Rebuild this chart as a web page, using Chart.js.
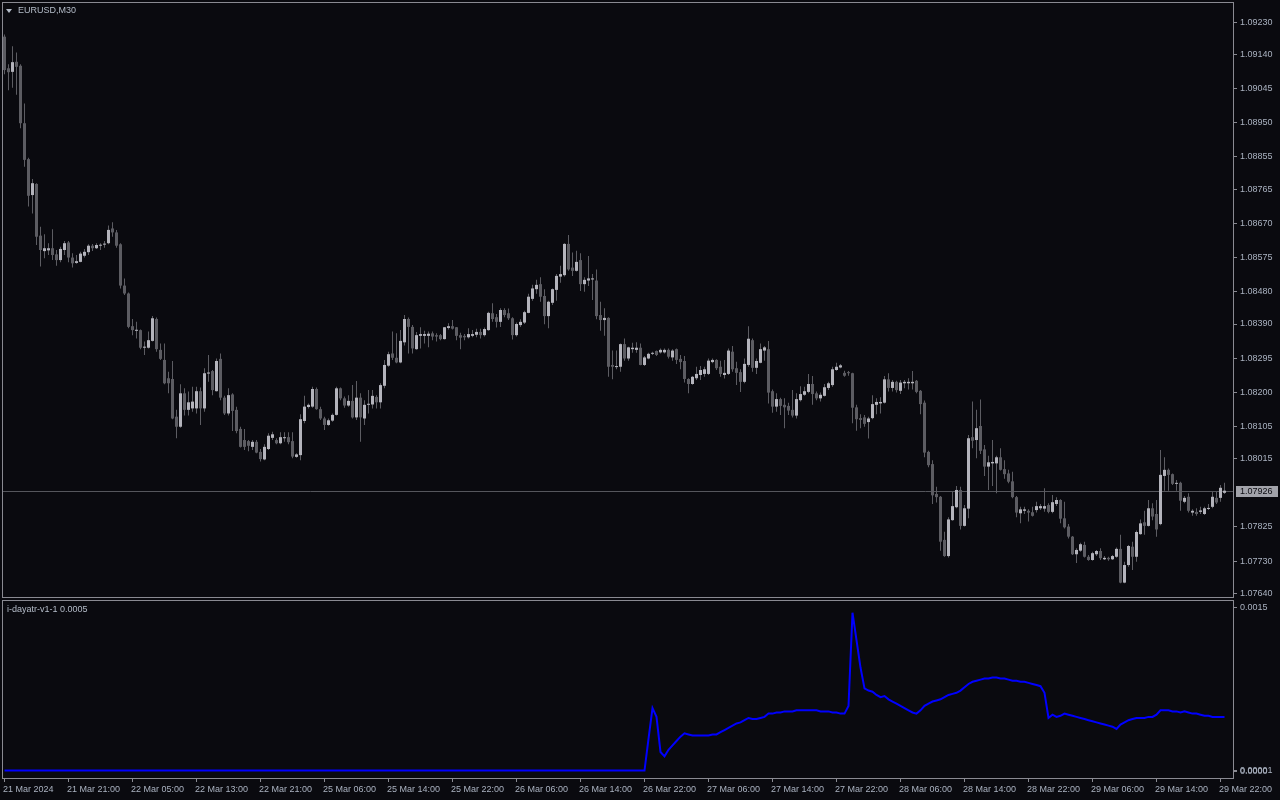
<!DOCTYPE html>
<html><head><meta charset="utf-8">
<script src="https://cdn.jsdelivr.net/npm/chart.js@4.4.1/dist/chart.umd.min.js"></script>
<style>
html,body{margin:0;padding:0;background:#0a0a0f;width:1280px;height:800px;overflow:hidden}
#main{position:absolute;left:0;top:0;width:1280px;height:598px}
#ind{position:absolute;left:0;top:598px;width:1280px;height:202px}
.lbl{position:absolute;font:9px "Liberation Sans",Arial,sans-serif;color:#b4bcc8;white-space:nowrap;line-height:10px}
#tri{position:absolute;left:6px;top:9px;width:0;height:0;border-left:3px solid transparent;border-right:3px solid transparent;border-top:4px solid #b4bcc8}
</style></head><body>
<div id="main"><canvas id="c1"></canvas></div>
<div id="ind"><canvas id="c2"></canvas></div>
<div id="tri"></div>
<div class="lbl" id="title" style="left:18px;top:5px">EURUSD,M30</div>
<div class="lbl" id="indname" style="left:7px;top:604px">i-dayatr-v1-1 0.0005</div>
<script>
const open = [
1.09190,1.09102,1.09092,1.09120,1.09109,1.08949,1.08849,1.08749,1.08780,1.08636,
1.08593,1.08595,1.08601,1.08584,1.08568,1.08596,1.08617,1.08575,1.08560,1.08563,
1.08580,1.08590,1.08608,1.08601,1.08608,1.08611,1.08615,1.08656,1.08645,1.08612,
1.08497,1.08475,1.08384,1.08371,1.08373,1.08324,1.08324,1.08343,1.08404,1.08318,
1.08290,1.08239,1.08237,1.08132,1.08104,1.08197,1.08151,1.08155,1.08155,1.08203,
1.08155,1.08252,1.08259,1.08203,1.08293,1.08185,1.08141,1.08194,1.08151,1.08098,
1.08067,1.08064,1.08048,1.08062,1.08034,1.08013,1.08042,1.08073,1.08067,1.08058,
1.08072,1.08075,1.08064,1.08020,1.08025,1.08120,1.08159,1.08160,1.08209,1.08153,
1.08127,1.08109,1.08121,1.08137,1.08211,1.08183,1.08163,1.08176,1.08130,1.08185,
1.08127,1.08165,1.08166,1.08187,1.08172,1.08218,1.08274,1.08308,1.08296,1.08283,
1.08339,1.08404,1.08382,1.08320,1.08357,1.08357,1.08357,1.08364,1.08359,1.08359,
1.08348,1.08379,1.08384,1.08381,1.08359,1.08357,1.08353,1.08357,1.08360,1.08368,
1.08359,1.08373,1.08420,1.08409,1.08396,1.08429,1.08420,1.08406,1.08359,1.08387,
1.08394,1.08421,1.08460,1.08487,1.08501,1.08468,1.08412,1.08449,1.08485,1.08522,
1.08526,1.08613,1.08547,1.08538,1.08568,1.08501,1.08511,1.08514,1.08511,1.08415,
1.08401,1.08407,1.08276,1.08270,1.08271,1.08334,1.08294,1.08320,1.08318,1.08324,
1.08276,1.08294,1.08307,1.08315,1.08311,1.08311,1.08318,1.08297,1.08320,1.08293,
1.08287,1.08237,1.08223,1.08239,1.08248,1.08251,1.08251,1.08284,1.08290,1.08271,
1.08248,1.08251,1.08313,1.08267,1.08256,1.08229,1.08276,1.08345,1.08268,1.08282,
1.08316,1.08320,1.08203,1.08160,1.08181,1.08165,1.08162,1.08151,1.08135,1.08178,
1.08193,1.08201,1.08223,1.08197,1.08183,1.08190,1.08212,1.08220,1.08262,1.08269,
1.08254,1.08256,1.08253,1.08158,1.08128,1.08130,1.08117,1.08128,1.08165,1.08169,
1.08171,1.08236,1.08212,1.08229,1.08204,1.08225,1.08225,1.08225,1.08232,1.08204,
1.08171,1.08034,1.08000,1.07917,1.07909,1.07789,1.07744,1.07844,1.07880,1.07928,
1.07828,1.07876,1.08075,1.08067,1.08106,1.08041,1.07993,1.08002,1.08002,1.08019,
1.07986,1.07974,1.07952,1.07908,1.07863,1.07870,1.07870,1.07866,1.07872,1.07877,
1.07876,1.07886,1.07867,1.07889,1.07900,1.07849,1.07826,1.07798,1.07749,1.07759,
1.07775,1.07742,1.07733,1.07749,1.07758,1.07735,1.07739,1.07735,1.07742,1.07764,
1.07670,1.07719,1.07770,1.07742,1.07805,1.07838,1.07828,1.07877,1.07861,1.07833,
1.07967,1.07984,1.07972,1.07945,1.07948,1.07895,1.07909,1.07865,1.07867,1.07867,
1.07861,1.07875,1.07881,1.07906,1.07906,1.07920];
const high = [
1.09196,1.09113,1.09163,1.09146,1.09113,1.09004,1.08853,1.08794,1.08782,1.08661,
1.08640,1.08615,1.08654,1.08596,1.08605,1.08621,1.08621,1.08587,1.08582,1.08591,
1.08599,1.08612,1.08613,1.08615,1.08615,1.08621,1.08664,1.08673,1.08652,1.08615,
1.08517,1.08478,1.08404,1.08396,1.08375,1.08341,1.08369,1.08412,1.08408,1.08336,
1.08336,1.08257,1.08287,1.08151,1.08222,1.08211,1.08202,1.08215,1.08215,1.08213,
1.08267,1.08304,1.08262,1.08294,1.08308,1.08190,1.08211,1.08197,1.08160,1.08104,
1.08098,1.08067,1.08067,1.08067,1.08042,1.08055,1.08086,1.08090,1.08072,1.08089,
1.08089,1.08089,1.08089,1.08030,1.08139,1.08190,1.08169,1.08215,1.08213,1.08160,
1.08132,1.08127,1.08141,1.08215,1.08213,1.08188,1.08192,1.08220,1.08231,1.08197,
1.08178,1.08206,1.08206,1.08192,1.08225,1.08290,1.08313,1.08369,1.08364,1.08373,
1.08415,1.08408,1.08387,1.08368,1.08381,1.08371,1.08369,1.08369,1.08364,1.08362,
1.08382,1.08392,1.08401,1.08382,1.08366,1.08362,1.08378,1.08373,1.08377,1.08377,
1.08380,1.08424,1.08448,1.08418,1.08434,1.08434,1.08433,1.08409,1.08394,1.08403,
1.08427,1.08474,1.08499,1.08513,1.08520,1.08487,1.08455,1.08489,1.08529,1.08552,
1.08615,1.08638,1.08589,1.08594,1.08587,1.08520,1.08579,1.08529,1.08542,1.08452,
1.08434,1.08409,1.08316,1.08316,1.08336,1.08350,1.08327,1.08338,1.08339,1.08336,
1.08301,1.08310,1.08313,1.08316,1.08322,1.08322,1.08322,1.08320,1.08322,1.08304,
1.08301,1.08239,1.08245,1.08271,1.08273,1.08271,1.08294,1.08294,1.08292,1.08288,
1.08290,1.08322,1.08329,1.08285,1.08264,1.08294,1.08384,1.08350,1.08294,1.08336,
1.08329,1.08343,1.08208,1.08197,1.08185,1.08183,1.08171,1.08206,1.08197,1.08217,
1.08215,1.08251,1.08245,1.08202,1.08199,1.08223,1.08229,1.08271,1.08282,1.08279,
1.08260,1.08259,1.08254,1.08165,1.08139,1.08137,1.08132,1.08192,1.08183,1.08186,
1.08245,1.08253,1.08234,1.08232,1.08234,1.08234,1.08239,1.08259,1.08234,1.08206,
1.08177,1.08037,1.08011,1.07937,1.07911,1.07812,1.07852,1.07923,1.07939,1.07937,
1.07886,1.08081,1.08174,1.08151,1.08180,1.08053,1.08023,1.08067,1.08023,1.08044,
1.08011,1.07984,1.07979,1.07911,1.07881,1.07881,1.07874,1.07881,1.07895,1.07889,
1.07933,1.07891,1.07914,1.07908,1.07902,1.07895,1.07833,1.07800,1.07766,1.07781,
1.07784,1.07747,1.07756,1.07761,1.07766,1.07744,1.07742,1.07747,1.07768,1.07803,
1.07728,1.07775,1.07784,1.07815,1.07846,1.07870,1.07900,1.07891,1.07900,1.08039,
1.08019,1.07988,1.07974,1.07956,1.07951,1.07911,1.07919,1.07874,1.07877,1.07881,
1.07881,1.07889,1.07923,1.07923,1.07942,1.07948];
const low = [
1.09085,1.09041,1.09048,1.09028,1.08935,1.08828,1.08717,1.08698,1.08610,1.08550,
1.08573,1.08582,1.08568,1.08552,1.08562,1.08582,1.08562,1.08547,1.08558,1.08562,
1.08575,1.08582,1.08593,1.08599,1.08596,1.08602,1.08612,1.08633,1.08602,1.08489,
1.08471,1.08378,1.08359,1.08350,1.08320,1.08304,1.08322,1.08341,1.08313,1.08290,
1.08222,1.08197,1.08125,1.08072,1.08101,1.08135,1.08135,1.08146,1.08141,1.08109,
1.08146,1.08229,1.08192,1.08202,1.08178,1.08137,1.08135,1.08092,1.08086,1.08046,
1.08039,1.08036,1.08039,1.08030,1.08007,1.08011,1.08039,1.08067,1.08055,1.08055,
1.08062,1.08055,1.08016,1.08018,1.08011,1.08114,1.08155,1.08157,1.08151,1.08123,
1.08095,1.08107,1.08118,1.08135,1.08178,1.08157,1.08160,1.08127,1.08123,1.08062,
1.08109,1.08141,1.08155,1.08155,1.08155,1.08211,1.08271,1.08290,1.08281,1.08281,
1.08330,1.08308,1.08308,1.08318,1.08322,1.08336,1.08325,1.08345,1.08341,1.08345,
1.08347,1.08375,1.08375,1.08345,1.08320,1.08345,1.08350,1.08353,1.08353,1.08350,
1.08355,1.08371,1.08396,1.08380,1.08382,1.08409,1.08401,1.08347,1.08355,1.08382,
1.08390,1.08420,1.08455,1.08474,1.08452,1.08389,1.08378,1.08443,1.08455,1.08505,
1.08522,1.08538,1.08524,1.08536,1.08482,1.08480,1.08496,1.08457,1.08403,1.08371,
1.08357,1.08243,1.08236,1.08264,1.08257,1.08288,1.08288,1.08310,1.08310,1.08275,
1.08273,1.08292,1.08304,1.08301,1.08308,1.08308,1.08294,1.08288,1.08279,1.08264,
1.08227,1.08197,1.08221,1.08234,1.08234,1.08243,1.08248,1.08281,1.08262,1.08243,
1.08238,1.08248,1.08257,1.08220,1.08201,1.08225,1.08271,1.08257,1.08251,1.08281,
1.08288,1.08169,1.08143,1.08146,1.08137,1.08100,1.08137,1.08130,1.08127,1.08174,
1.08190,1.08197,1.08165,1.08178,1.08174,1.08188,1.08206,1.08215,1.08260,1.08267,
1.08243,1.08246,1.08114,1.08093,1.08100,1.08104,1.08071,1.08125,1.08139,1.08141,
1.08169,1.08202,1.08202,1.08199,1.08195,1.08211,1.08208,1.08208,1.08197,1.08139,
1.08019,1.07991,1.07889,1.07893,1.07759,1.07742,1.07740,1.07842,1.07877,1.07818,
1.07826,1.07849,1.08044,1.08016,1.08028,1.07967,1.07928,1.07939,1.07919,1.07982,
1.07959,1.07947,1.07905,1.07852,1.07835,1.07861,1.07840,1.07854,1.07865,1.07872,
1.07867,1.07863,1.07863,1.07883,1.07835,1.07821,1.07793,1.07747,1.07725,1.07756,
1.07740,1.07731,1.07731,1.07744,1.07733,1.07733,1.07731,1.07733,1.07739,1.07668,
1.07668,1.07714,1.07705,1.07728,1.07803,1.07803,1.07826,1.07844,1.07798,1.07830,
1.07926,1.07926,1.07942,1.07926,1.07870,1.07891,1.07865,1.07856,1.07856,1.07861,
1.07858,1.07872,1.07877,1.07889,1.07895,1.07917];
const close = [
1.09097,1.09091,1.09119,1.09106,1.08949,1.08847,1.08747,1.08782,1.08633,1.08596,
1.08601,1.08601,1.08582,1.08568,1.08599,1.08615,1.08575,1.08559,1.08565,1.08586,
1.08591,1.08608,1.08601,1.08610,1.08610,1.08613,1.08652,1.08645,1.08608,1.08497,
1.08475,1.08382,1.08373,1.08374,1.08324,1.08327,1.08345,1.08406,1.08320,1.08293,
1.08225,1.08225,1.08127,1.08104,1.08197,1.08151,1.08172,1.08174,1.08203,1.08155,
1.08253,1.08255,1.08206,1.08287,1.08185,1.08141,1.08192,1.08148,1.08092,1.08048,
1.08048,1.08051,1.08062,1.08032,1.08014,1.08048,1.08079,1.08083,1.08058,1.08075,
1.08075,1.08061,1.08021,1.08027,1.08125,1.08160,1.08165,1.08209,1.08153,1.08127,
1.08109,1.08122,1.08137,1.08211,1.08183,1.08163,1.08176,1.08130,1.08185,1.08130,
1.08165,1.08168,1.08190,1.08172,1.08220,1.08276,1.08306,1.08296,1.08283,1.08343,
1.08404,1.08382,1.08322,1.08359,1.08362,1.08362,1.08363,1.08355,1.08355,1.08348,
1.08381,1.08384,1.08377,1.08357,1.08352,1.08353,1.08362,1.08362,1.08368,1.08359,
1.08376,1.08421,1.08404,1.08396,1.08429,1.08415,1.08406,1.08359,1.08390,1.08396,
1.08423,1.08466,1.08489,1.08499,1.08466,1.08412,1.08452,1.08487,1.08524,1.08529,
1.08613,1.08542,1.08538,1.08563,1.08501,1.08513,1.08517,1.08517,1.08412,1.08401,
1.08407,1.08271,1.08271,1.08273,1.08334,1.08294,1.08325,1.08324,1.08324,1.08276,
1.08297,1.08307,1.08309,1.08304,1.08318,1.08318,1.08299,1.08316,1.08290,1.08284,
1.08237,1.08223,1.08243,1.08251,1.08262,1.08264,1.08288,1.08290,1.08267,1.08251,
1.08254,1.08316,1.08264,1.08254,1.08229,1.08279,1.08349,1.08268,1.08287,1.08320,
1.08325,1.08199,1.08160,1.08181,1.08162,1.08158,1.08149,1.08135,1.08181,1.08195,
1.08203,1.08223,1.08195,1.08183,1.08193,1.08214,1.08225,1.08264,1.08271,1.08275,
1.08246,1.08253,1.08157,1.08125,1.08123,1.08112,1.08127,1.08167,1.08173,1.08173,
1.08236,1.08212,1.08229,1.08206,1.08227,1.08229,1.08229,1.08229,1.08201,1.08167,
1.08032,1.07997,1.07913,1.07908,1.07784,1.07744,1.07846,1.07883,1.07928,1.07828,
1.07877,1.08072,1.08065,1.08100,1.08037,1.07993,1.08005,1.08006,1.08019,1.07984,
1.07972,1.07951,1.07908,1.07865,1.07874,1.07874,1.07865,1.07856,1.07883,1.07883,
1.07883,1.07867,1.07894,1.07900,1.07848,1.07824,1.07798,1.07749,1.07761,1.07777,
1.07742,1.07733,1.07752,1.07758,1.07738,1.07739,1.07735,1.07744,1.07764,1.07670,
1.07719,1.07772,1.07742,1.07811,1.07835,1.07828,1.07877,1.07854,1.07818,1.07970,
1.07984,1.07970,1.07945,1.07947,1.07898,1.07906,1.07870,1.07870,1.07861,1.07871,
1.07877,1.07878,1.07909,1.07893,1.07934,1.07926];
const atr = [
0.00001,0.00001,0.00001,0.00001,0.00001,0.00001,0.00001,0.00001,0.00001,0.00001,
0.00001,0.00001,0.00001,0.00001,0.00001,0.00001,0.00001,0.00001,0.00001,0.00001,
0.00001,0.00001,0.00001,0.00001,0.00001,0.00001,0.00001,0.00001,0.00001,0.00001,
0.00001,0.00001,0.00001,0.00001,0.00001,0.00001,0.00001,0.00001,0.00001,0.00001,
0.00001,0.00001,0.00001,0.00001,0.00001,0.00001,0.00001,0.00001,0.00001,0.00001,
0.00001,0.00001,0.00001,0.00001,0.00001,0.00001,0.00001,0.00001,0.00001,0.00001,
0.00001,0.00001,0.00001,0.00001,0.00001,0.00001,0.00001,0.00001,0.00001,0.00001,
0.00001,0.00001,0.00001,0.00001,0.00001,0.00001,0.00001,0.00001,0.00001,0.00001,
0.00001,0.00001,0.00001,0.00001,0.00001,0.00001,0.00001,0.00001,0.00001,0.00001,
0.00001,0.00001,0.00001,0.00001,0.00001,0.00001,0.00001,0.00001,0.00001,0.00001,
0.00001,0.00001,0.00001,0.00001,0.00001,0.00001,0.00001,0.00001,0.00001,0.00001,
0.00001,0.00001,0.00001,0.00001,0.00001,0.00001,0.00001,0.00001,0.00001,0.00001,
0.00001,0.00001,0.00001,0.00001,0.00001,0.00001,0.00001,0.00001,0.00001,0.00001,
0.00001,0.00001,0.00001,0.00001,0.00001,0.00001,0.00001,0.00001,0.00001,0.00001,
0.00001,0.00001,0.00001,0.00001,0.00001,0.00001,0.00001,0.00001,0.00001,0.00001,
0.00001,0.00001,0.00001,0.00001,0.00001,0.00001,0.00001,0.00001,0.00001,0.00001,
0.00001,0.00030,0.00058,0.00050,0.00018,0.00014,0.00020,0.00024,0.00028,0.00032,
0.00035,0.00034,0.00033,0.00033,0.00033,0.00033,0.00033,0.00034,0.00034,0.00036,
0.00038,0.00040,0.00042,0.00044,0.00045,0.00047,0.00049,0.00048,0.00048,0.00049,
0.00050,0.00053,0.00053,0.00054,0.00054,0.00055,0.00055,0.00055,0.00056,0.00056,
0.00056,0.00056,0.00056,0.00056,0.00055,0.00055,0.00055,0.00054,0.00054,0.00053,
0.00053,0.00060,0.00145,0.00120,0.00095,0.00076,0.00074,0.00073,0.00070,0.00068,
0.00069,0.00066,0.00064,0.00062,0.00060,0.00058,0.00056,0.00054,0.00053,0.00056,
0.00060,0.00062,0.00064,0.00065,0.00066,0.00068,0.00070,0.00071,0.00072,0.00074,
0.00077,0.00080,0.00082,0.00083,0.00084,0.00085,0.00085,0.00086,0.00086,0.00085,
0.00085,0.00084,0.00083,0.00083,0.00082,0.00082,0.00081,0.00080,0.00079,0.00078,
0.00072,0.00049,0.00052,0.00050,0.00051,0.00053,0.00052,0.00051,0.00050,0.00049,
0.00048,0.00047,0.00046,0.00045,0.00044,0.00043,0.00042,0.00041,0.00039,0.00043,
0.00045,0.00047,0.00048,0.00049,0.00049,0.00049,0.00050,0.00050,0.00052,0.00056,
0.00056,0.00056,0.00055,0.00055,0.00054,0.00055,0.00054,0.00053,0.00053,0.00052,
0.00051,0.00051,0.00050,0.00050,0.00050,0.00050];
const timeLabels = ["21 Mar 2024","21 Mar 21:00","22 Mar 05:00","22 Mar 13:00","22 Mar 21:00",
"25 Mar 06:00","25 Mar 14:00","25 Mar 22:00","26 Mar 06:00","26 Mar 14:00",
"26 Mar 22:00","27 Mar 06:00","27 Mar 14:00","27 Mar 22:00","28 Mar 06:00",
"28 Mar 14:00","28 Mar 22:00","29 Mar 06:00","29 Mar 14:00","29 Mar 22:00"];
const barsPerTimeLabel = 16;
const priceTicks = [1.09230,1.09140,1.09045,1.08950,1.08855,1.08765,1.08670,1.08575,1.08480,
1.08390,1.08295,1.08200,1.08105,1.08015,1.07825,1.07730,1.07640];
const indTickValues = [0.0015, 0.00001, 0];
const indTickLabels = ["0.0015", "0.00001", "0.0000"];
const currentPrice = 1.07926;

const FRAME = '#8a8a92', TEXT = '#aab2c0';
const UP = '#b4b4bc', DOWN = '#5c5c62', WICK = '#5c5c62';
const FONT = {family: '"Liberation Sans", Arial, sans-serif', size: 9};
const XMIN = -0.375, XMAX = 307.125;

const idx = open.map((_, i) => i);
const bodies = idx.map(i => ({x: i, y: [open[i], close[i]]}));
const wicks = idx.map(i => ({x: i, y: [low[i], high[i]]}));
const atrPts = idx.map(i => ({x: i, y: atr[i]}));

const noPad = s => { s.paddingTop = 0; s.paddingBottom = 0; s.paddingLeft = 0; s.paddingRight = 0; };

const framePlugin = {id: 'frame', afterDraw(chart) {
  const {ctx, chartArea: a} = chart;
  ctx.save(); ctx.strokeStyle = FRAME; ctx.lineWidth = 1;
  ctx.strokeRect(a.left - 0.5, a.top - 0.5, a.right - a.left + 1, a.bottom - a.top + 1);
  ctx.restore();
}};
const pricePlugin = {id: 'price',
  beforeDatasetsDraw(chart) {
    const {ctx, chartArea: a} = chart;
    const y = Math.round(chart.scales.y.getPixelForValue(currentPrice)) + 0.5;
    ctx.save(); ctx.strokeStyle = '#55565c'; ctx.lineWidth = 1;
    ctx.beginPath(); ctx.moveTo(a.left, y); ctx.lineTo(a.right, y); ctx.stroke(); ctx.restore();
  },
  afterDraw(chart) {
    const {ctx, chartArea: a} = chart;
    const y = Math.round(chart.scales.y.getPixelForValue(currentPrice));
    ctx.save();
    ctx.fillStyle = '#a2a3aa'; ctx.fillRect(a.right + 3, y - 5, 42, 11);
    ctx.fillStyle = '#0c0c12'; ctx.font = '9px "Liberation Sans", Arial, sans-serif';
    ctx.textBaseline = 'middle'; ctx.textAlign = 'left';
    ctx.fillText(currentPrice.toFixed(5), a.right + 7, y + 0.5);
    ctx.restore();
  }
};

Chart.defaults.font.family = FONT.family;
Chart.defaults.font.size = FONT.size;

new Chart(document.getElementById('c1'), {
  type: 'bar',
  data: {datasets: [
    {data: wicks, backgroundColor: WICK, barThickness: 1, grouped: false, order: 2, borderWidth: 0, inflateAmount: 0},
    {data: bodies, backgroundColor: c => (close[c.dataIndex] >= open[c.dataIndex] ? UP : DOWN),
     barThickness: 3, minBarLength: 1, grouped: false, order: 1, borderWidth: 0, inflateAmount: 0}
  ]},
  options: {
    responsive: true, maintainAspectRatio: false, animation: false, devicePixelRatio: 1,
    layout: {padding: {left: 3, top: 3, right: 0, bottom: 1}},
    plugins: {legend: {display: false}, tooltip: {enabled: false}},
    scales: {
      x: {type: 'linear', min: XMIN, max: XMAX, display: false, offset: false, grid: {offset: false}},
      y: {position: 'right', min: 1.07630, max: 1.092837,
          afterFit: s => { s.width = 47; noPad(s); },
          afterBuildTicks: s => { s.ticks = priceTicks.map(v => ({value: v})); },
          ticks: {color: TEXT, font: FONT, padding: 3, autoSkip: false, callback: v => Number(v).toFixed(5)},
          grid: {display: true, drawOnChartArea: false, drawTicks: true, tickLength: 4, color: FRAME},
          border: {display: false}}
    }
  },
  plugins: [pricePlugin, framePlugin]
});

new Chart(document.getElementById('c2'), {
  type: 'line',
  data: {datasets: [{data: atrPts, borderColor: '#0000ff', borderWidth: 2, pointRadius: 0, tension: 0, fill: false}]},
  options: {
    responsive: true, maintainAspectRatio: false, animation: false, devicePixelRatio: 1,
    layout: {padding: {left: 3, top: 3, right: 0, bottom: 0}},
    plugins: {legend: {display: false}, tooltip: {enabled: false}},
    scales: {
      x: {type: 'linear', min: XMIN, max: XMAX, position: 'bottom', offset: false,
          afterFit: s => { s.height = 22; noPad(s); },
          afterBuildTicks: s => { s.ticks = timeLabels.map((_, j) => ({value: j * barsPerTimeLabel})); },
          ticks: {color: TEXT, font: FONT, align: 'start', labelOffset: -1.5, padding: 2, autoSkip: false, maxRotation: 0,
                  callback: v => timeLabels[Math.round(v / barsPerTimeLabel)]},
          grid: {display: true, drawOnChartArea: false, drawTicks: true, tickLength: 4, color: FRAME},
          border: {display: false}},
      y: {position: 'right', min: -0.0000575, max: 0.001557,
          afterFit: s => { s.width = 47; noPad(s); },
          afterBuildTicks: s => { s.ticks = indTickValues.map(v => ({value: v})); },
          ticks: {color: TEXT, font: FONT, padding: 3, autoSkip: false,
                  callback: (v, i) => indTickLabels[i]},
          grid: {display: true, drawOnChartArea: false, drawTicks: true, tickLength: 4, color: FRAME},
          border: {display: false}}
    }
  },
  plugins: [framePlugin]
});
</script>
</body></html>
